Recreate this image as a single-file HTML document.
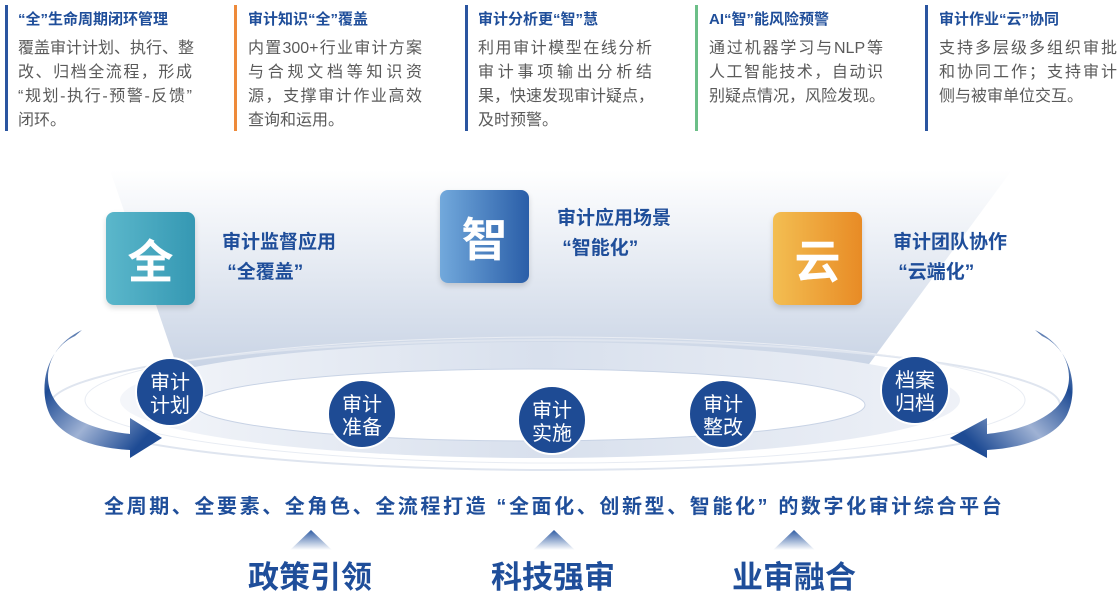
<!DOCTYPE html>
<html><head><meta charset="utf-8"><style>
body{margin:0;width:1117px;height:600px;overflow:hidden;background:#fff;font-family:"Liberation Sans","Noto Sans CJK SC",sans-serif;position:relative}
.a{position:absolute;white-space:nowrap}
.bar{position:absolute;top:5px;width:3px;height:126px}
.t{font-size:15px;font-weight:bold;color:#1f4e9a;top:8px}
.b{font-size:16px;color:#5a5a5a;line-height:24px;top:37px;width:174px}
.b span{display:block;text-align:justify;text-align-last:justify;text-justify:inter-character;white-space:nowrap}
.b span.l{text-align-last:left}
.box{position:absolute;width:89px;height:93px;border-radius:8px;color:#fff;font-size:46px;font-weight:bold;display:flex;align-items:center;justify-content:center;box-shadow:0 3px 6px rgba(0,0,0,.15)}
.lab{font-size:19px;font-weight:bold;color:#1f4e9a;line-height:30px}
.big{font-size:31px;font-weight:bold;color:#1f4e9a;top:552px}
</style></head><body>
<svg width="1117" height="600" style="position:absolute;left:0;top:0">
<defs>
<linearGradient id="fun" x1="0" y1="0" x2="0" y2="1"><stop offset="0" stop-color="#fff"/><stop offset="1" stop-color="#c3cfe2"/></linearGradient>
<linearGradient id="band" x1="0" y1="0" x2="1" y2="0"><stop offset="0" stop-color="#f4f6fa"/><stop offset=".5" stop-color="#d8e0ed"/><stop offset="1" stop-color="#eef1f7"/></linearGradient>
<linearGradient id="tri" x1="0" y1="0" x2="0" y2="1"><stop offset="0" stop-color="#2e5ba3"/><stop offset="1" stop-color="#2e5ba3" stop-opacity="0"/></linearGradient>
<linearGradient id="al" x1="0" y1="0" x2="1" y2="1"><stop offset="0" stop-color="#1e4b94" stop-opacity=".3"/><stop offset=".25" stop-color="#1e4b94"/><stop offset=".55" stop-color="#9fb2d4"/><stop offset=".85" stop-color="#1e4b94"/></linearGradient>
<linearGradient id="ar" x1="1" y1="0" x2="0" y2="1"><stop offset="0" stop-color="#1e4b94" stop-opacity=".3"/><stop offset=".25" stop-color="#1e4b94"/><stop offset=".55" stop-color="#9fb2d4"/><stop offset=".85" stop-color="#1e4b94"/></linearGradient>
</defs>
<polygon points="110,170 1012,170 850,390 185,390" fill="url(#fun)"/>
<ellipse cx="555" cy="405" rx="505" ry="65" fill="none" stroke="#dfe5ef" stroke-width="2"/>
<ellipse cx="540" cy="400" rx="420" ry="58" fill="url(#band)"/>
<ellipse cx="530" cy="405" rx="335" ry="36" fill="#fff" stroke="#c8d3e5"/>
<ellipse cx="555" cy="400" rx="470" ry="63" fill="none" stroke="#e8ecf3" stroke-width="1"/>
<path d="M82,330 C40,350 38,395 70,415 C90,428 112,432 130,434 L130,418 L162,438 L130,458 L130,450 C95,448 62,438 50,415 C38,390 45,350 75,336 Z" fill="url(#al)"/>
<path d="M1035,330 C1077,350 1079,395 1047,415 C1027,428 1005,432 987,434 L987,418 L950,438 L987,458 L987,450 C1022,448 1055,438 1067,415 C1079,390 1072,350 1042,336 Z" fill="url(#ar)"/>
<g fill="#1e4b94" stroke="#fff" stroke-width="2">
<circle cx="170" cy="392" r="34"/><circle cx="362" cy="414" r="34"/><circle cx="552" cy="420" r="34"/><circle cx="723" cy="414" r="34"/><circle cx="915" cy="390" r="34"/>
</g>
<g fill="#fff" font-size="20" text-anchor="middle" font-family="Liberation Sans,Noto Sans CJK SC,sans-serif">
<text x="170" y="389">审计</text><text x="170" y="412">计划</text>
<text x="362" y="411">审计</text><text x="362" y="434">准备</text>
<text x="552" y="417">审计</text><text x="552" y="440">实施</text>
<text x="723" y="411">审计</text><text x="723" y="434">整改</text>
<text x="915" y="387">档案</text><text x="915" y="410">归档</text>
</g>
<polygon points="311,530 332,550 290,550" fill="url(#tri)"/>
<polygon points="554,530 575,550 533,550" fill="url(#tri)"/>
<polygon points="794,530 815,550 773,550" fill="url(#tri)"/>
</svg>
<div class="bar" style="left:5px;background:#2a55a0"></div>
<div class="bar" style="left:234px;background:#ee8a3a"></div>
<div class="bar" style="left:465px;background:#2a55a0"></div>
<div class="bar" style="left:695px;background:#6cbf88"></div>
<div class="bar" style="left:925px;background:#2a55a0"></div>
<div class="a t" style="left:18px">“全”生命周期闭环管理</div>
<div class="a t" style="left:248px">审计知识“全”覆盖</div>
<div class="a t" style="left:478px">审计分析更“智”慧</div>
<div class="a t" style="left:709px">AI“智”能风险预警</div>
<div class="a t" style="left:939px">审计作业“云”协同</div>
<div class="a b" style="left:18px"><span>覆盖审计计划、执行、整</span><span>改、归档全流程，形成</span><span>“规划-执行-预警-反馈”</span><span class="l">闭环。</span></div>
<div class="a b" style="left:248px"><span>内置300+行业审计方案</span><span>与合规文档等知识资</span><span>源，支撑审计作业高效</span><span class="l">查询和运用。</span></div>
<div class="a b" style="left:478px"><span>利用审计模型在线分析</span><span>审计事项输出分析结</span><span>果，快速发现审计疑点，</span><span class="l">及时预警。</span></div>
<div class="a b" style="left:709px"><span>通过机器学习与NLP等</span><span>人工智能技术，自动识</span><span class="l">别疑点情况，风险发现。</span></div>
<div class="a b" style="left:939px;width:178px"><span>支持多层级多组织审批</span><span>和协同工作；支持审计</span><span class="l">侧与被审单位交互。</span></div>
<div class="box" style="left:106px;top:212px;background:linear-gradient(90deg,#5bb7cb,#3598b3)">全</div>
<div class="box" style="left:440px;top:190px;background:linear-gradient(90deg,#72a9dc,#2a5ea8)">智</div>
<div class="box" style="left:773px;top:212px;background:linear-gradient(90deg,#f3be52,#e88b25)">云</div>
<div class="a lab" style="left:222px;top:228px">审计监督应用<br>&nbsp;“全覆盖”</div>
<div class="a lab" style="left:557px;top:204px">审计应用场景<br>&nbsp;“智能化”</div>
<div class="a lab" style="left:893px;top:228px">审计团队协作<br>&nbsp;“云端化”</div>
<div class="a" style="left:104px;top:490px;font-size:20px;font-weight:bold;color:#1f4e9a;letter-spacing:2.6px">全周期、全要素、全角色、全流程打造 “全面化、创新型、智能化” 的数字化审计综合平台</div>
<div class="a big" style="left:248px">政策引领</div>
<div class="a big" style="left:491px">科技强审</div>
<div class="a big" style="left:732px">业审融合</div>
</body></html>
